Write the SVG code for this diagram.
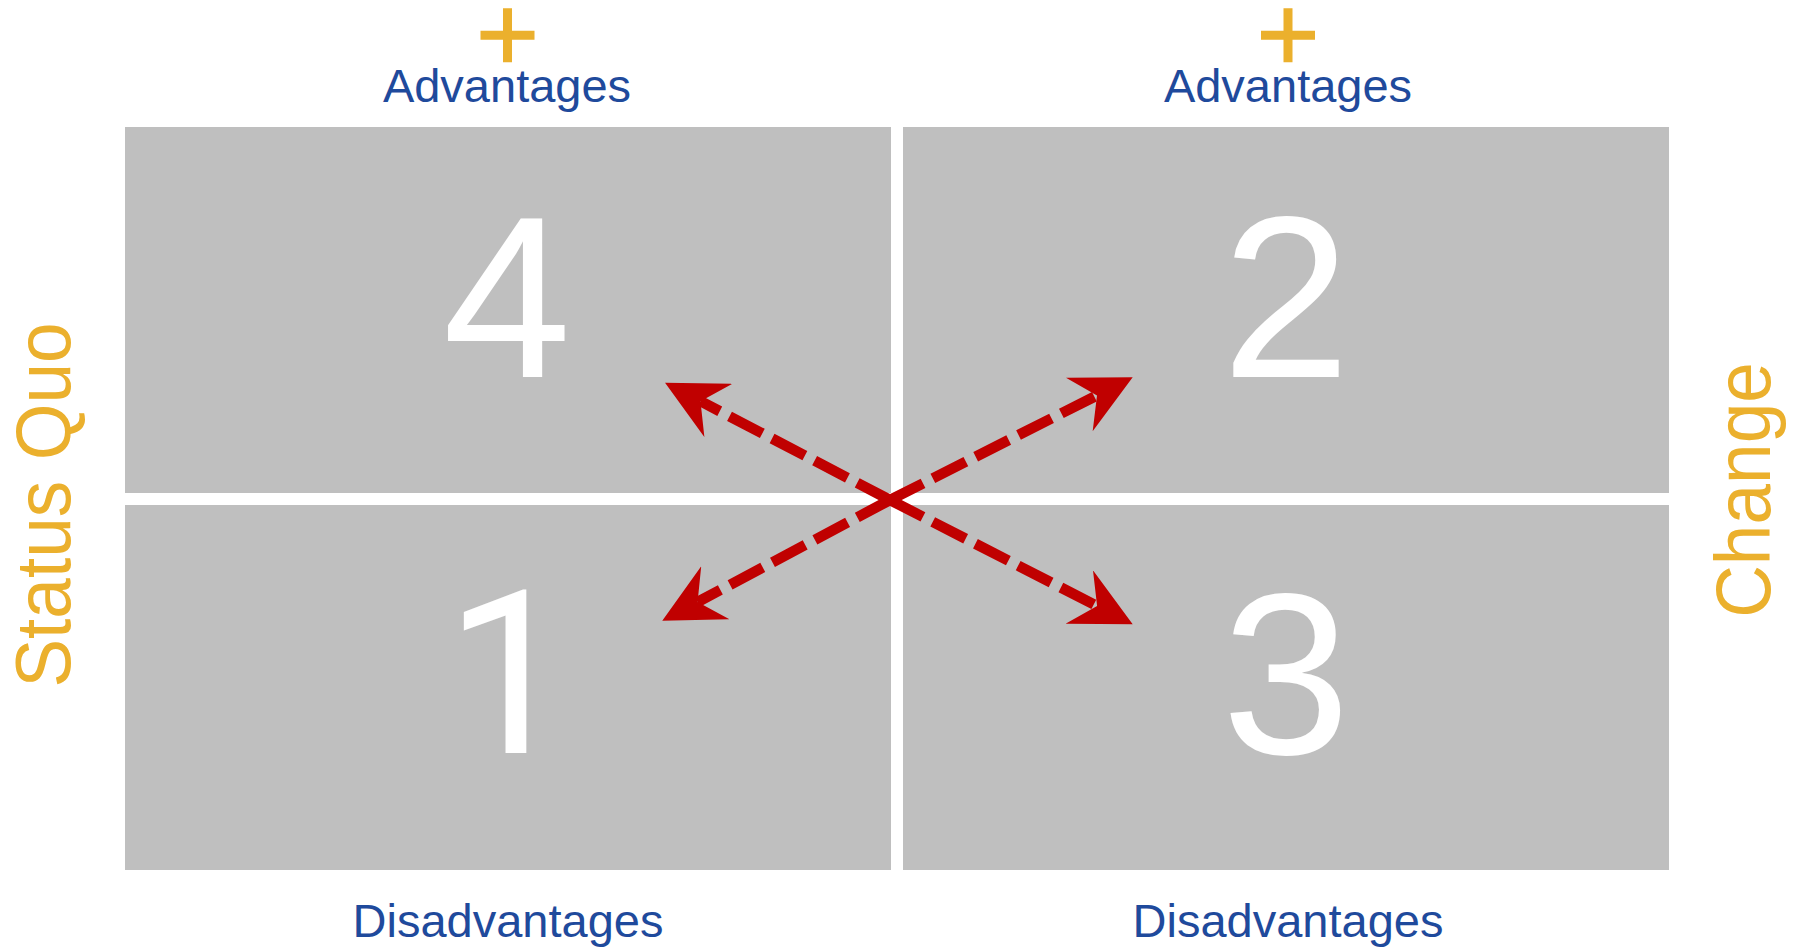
<svg xmlns="http://www.w3.org/2000/svg" xmlns:xlink="http://www.w3.org/1999/xlink" width="1801" height="949" viewBox="0 0 1801 949">
  <style>
    .cell { fill: #BFBFBF; }
    .num { font-family: "Liberation Sans", Arial, sans-serif; font-size: 231px; fill: #FFFFFF; text-anchor: middle; }
    .lbl { font-family: "Liberation Sans", Arial, sans-serif; font-size: 47px; fill: #1F4A9C; text-anchor: middle; }
    .side { font-family: "Liberation Sans", Arial, sans-serif; font-size: 73px; fill: #EBB02D; text-anchor: middle; }
    .plus { stroke: #EBB02D; stroke-width: 9; fill: none; }
    .arrow { stroke: #C00000; stroke-width: 10.5; stroke-dasharray: 37 11; fill: none; marker-end: url(#head); }
  </style>
  <defs>
    <marker id="head" markerUnits="userSpaceOnUse" viewBox="0 0 60 60" markerWidth="60" markerHeight="60" refX="20" refY="30" orient="auto">
      <path d="M0,0 L60,30 L0,60 L20,30 Z" fill="#C00000"/>
    </marker>
    <path id="plusSign" d="M-27,0 H27 M0,-27 V27"/>
  </defs>
  <rect width="1801" height="949" fill="#FFFFFF"/>

  <g id="cell-4">
    <rect class="cell" x="125" y="127" width="766" height="366"/>
    <text class="num" x="507" y="377">4</text>
  </g>
  <g id="cell-2">
    <rect class="cell" x="903" y="127" width="766" height="366"/>
    <text class="num" x="1286" y="377">2</text>
  </g>
  <g id="cell-1">
    <rect class="cell" x="125" y="505" width="766" height="365"/>
    <text class="num" x="509" y="753" style="font-family: Roboto, 'Liberation Sans', sans-serif; font-size: 229px;">1</text>
  </g>
  <g id="cell-3">
    <rect class="cell" x="903" y="505" width="766" height="365"/>
    <text class="num" x="1286" y="754">3</text>
  </g>

  <g id="label-adv-left">
    <use xlink:href="#plusSign" class="plus" x="507.5" y="35.3"/>
    <text class="lbl" x="507" y="102">Advantages</text>
  </g>
  <g id="label-adv-right">
    <use xlink:href="#plusSign" class="plus" x="1288" y="35.3"/>
    <text class="lbl" x="1288" y="102">Advantages</text>
  </g>
  <g id="label-dis-left">
    <text class="lbl" x="508" y="937">Disadvantages</text>
  </g>
  <g id="label-dis-right">
    <text class="lbl" x="1288" y="937">Disadvantages</text>
  </g>
  <g id="label-status-quo">
    <text class="side" transform="translate(70,505) rotate(-90) scale(1,1.06)">Status Quo</text>
  </g>
  <g id="label-change">
    <text class="side" transform="translate(1770,490) rotate(-90) scale(1,1.06)">Change</text>
  </g>

  <g id="connectors">
    <path class="arrow" d="M890,500 L700.5,401.2"/>
    <path class="arrow" d="M890,500 L1097,395.4"/>
    <path class="arrow" d="M890,500 L697.6,602"/>
    <path class="arrow" d="M890,500 L1097.1,606.1"/>
  </g>
</svg>
